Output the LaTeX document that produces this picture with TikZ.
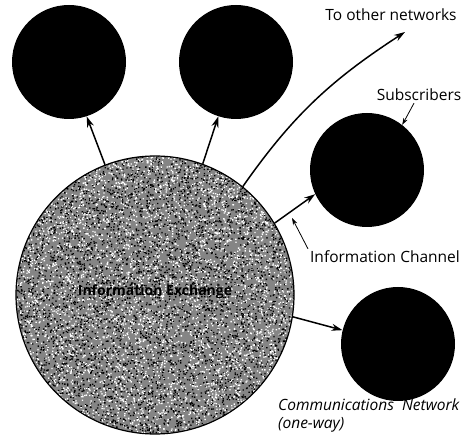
\documentclass[tikz,border=0pt]{standalone}
\usepackage{fontspec}
\setmainfont{Open Sans}
\usetikzlibrary{arrows.meta}
\begin{document}
\begin{tikzpicture}[x=1pt,y=1pt,
  subscriber/.style={circle, fill=black, minimum size=114pt, inner sep=0pt},
  exchange/.style={circle, draw=black, line width=1.2pt, minimum size=278pt, inner sep=0pt},
  channel/.style={line width=1.5pt, -{Stealth[length=11pt,width=7pt]}},
  pointer/.style={line width=0.8pt, -{Stealth[length=7pt,width=4.5pt]}},
  txt/.style={font=\fontsize{15.5}{18}\selectfont, inner sep=0pt}]
\useasboundingbox (0,0) rectangle (462,438);

% grainy fill of the exchange, drawn in small batches of specks
\begin{scope}
  \clip (155,143) circle (139);
  \fill[black!48] (16,4) rectangle (294,282);
  \pgfmathsetseed{42}
  \foreach \k in {1,...,23} {
    \fill[white] \foreach \i in {1,...,250} {(16+278*rnd,4+278*rnd) rectangle ++(1.35,1.35)};
    \fill[black] \foreach \i in {1,...,250} {(16+278*rnd,4+278*rnd) rectangle ++(1.35,1.35)};
  }
\end{scope}

\node[exchange] (ex) at (155,143) {};
\node[font=\fontsize{14}{16}\bfseries, text=black] (exl) at (155,146) {Information Exchange};

% subscribers
\node[subscriber] (c1) at (69,376) {};
\node[subscriber] (c2) at (236,376) {};
\node[subscriber] (c3) at (367,268) {};
\node[subscriber] (c4) at (398,94) {};

% channels
\draw[channel] (ex.111) -- (c1.-72);
\draw[channel] (ex.70) -- (c2.-108);
\draw[channel] (ex.31) -- (c3.-155);
\draw[channel] (ex.-9) -- (c4.166);

\coordinate (far) at (405,406);
\draw[channel] (ex.51) to[out=55,in=-147] (far);

% labels
\node[txt] (toother) at (391,423) {To other networks};
\node[txt] (subs) at (419,343) {Subscribers};
\node[txt] (ichan) at (385,181) {Information Channel};
\node[txt, anchor=west] (comm) at (278,33) {\itshape Communications\ \ Network};
\node[txt, anchor=west] (oneway) at (278,13) {\itshape (one-way)};

\coordinate (chtip) at (292,220);
\draw[pointer] ([xshift=-5pt,yshift=-2pt]subs.south) -- (c3.52);
\draw[pointer] ([xshift=-2pt,yshift=2pt]ichan.north west) -- (chtip);
\end{tikzpicture}
\end{document}
